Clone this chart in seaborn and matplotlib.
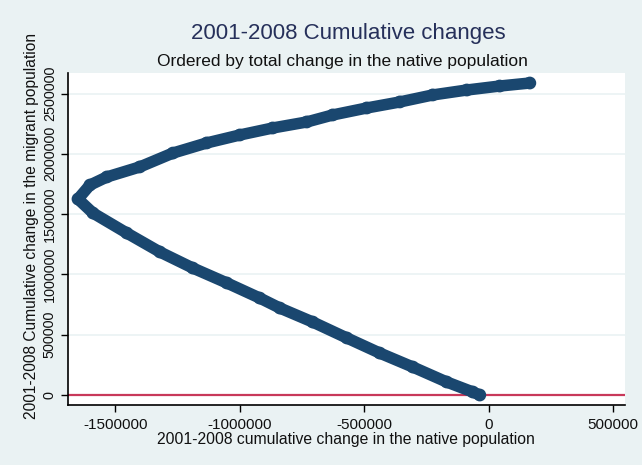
import numpy as np
import pandas as pd
import seaborn as sns
import matplotlib.pyplot as plt

# cumulative changes (native, migrant)
native = [-36000, -64000, -169000, -305000, -438000, -570000, -707000, -839000,
          -920000, -1052000, -1189000, -1321000, -1454000, -1590000, -1650000,
          -1602000, -1534000, -1402000, -1269000, -1133000, -1000000, -868000,
          -731000, -627000, -490000, -357000, -225000, -88000, 44000, 165000]
migrant = [0, 25000, 108000, 232000, 348000, 473000, 605000, 721000,
           804000, 929000, 1053000, 1186000, 1343000, 1509000, 1625000,
           1741000, 1808000, 1891000, 2006000, 2090000, 2156000, 2214000,
           2264000, 2322000, 2380000, 2430000, 2488000, 2529000, 2562000, 2587000]

xticks = [-1500000, -1000000, -500000, 0, 500000]
yticks = [0, 500000, 1000000, 1500000, 2000000, 2500000]

df = pd.DataFrame({'native': native, 'migrant': migrant})

plt.rcParams['font.family'] = ['Liberation Sans', 'DejaVu Sans']
bg = '#eaf2f3'
navy = '#1a476f'
txt = '#111111'

fig = plt.figure(figsize=(6.42, 4.65), dpi=100, facecolor=bg)
ax = fig.add_axes([0.106, 0.129, 0.867, 0.714])
ax.set_facecolor('white')

for t in yticks[1:]:
    ax.axhline(t, color=bg, lw=1.2, zorder=0)
ax.axhline(0, color='#c8385a', lw=1.6, zorder=1)

sns.lineplot(data=df, x='native', y='migrant', sort=False, estimator=None,
             color=navy, linewidth=8.3, solid_capstyle='round', ax=ax, zorder=3)
sns.scatterplot(data=df, x='native', y='migrant', color=navy, s=85,
                edgecolor='none', ax=ax, zorder=4)

ax.set_xlim(-1690000, 546000)
ax.set_ylim(-83000, 2670000)
ax.set_xticks(xticks)
ax.set_xticklabels([str(v) for v in xticks], fontsize=11, color=txt)
ax.set_yticks(yticks)
ax.set_yticklabels([str(v) for v in yticks], fontsize=10.4, color=txt,
                   rotation=90, va='center')
ax.tick_params(axis='x', direction='out', length=5, width=1, color='black', pad=4)
ax.tick_params(axis='y', direction='out', length=5, width=1, color='black', pad=3)

for s in ['top', 'right']:
    ax.spines[s].set_visible(False)
for s in ['left', 'bottom']:
    ax.spines[s].set_color('black')
    ax.spines[s].set_linewidth(1.2)

ax.set_xlabel('2001-2008 cumulative change in the native population',
              fontsize=11.3, color=txt)
ax.xaxis.set_label_coords(0.5, -0.082)
ax.set_ylabel('2001-2008 Cumulative change in the migrant population',
              fontsize=11.2, color=txt)
ax.yaxis.set_label_coords(-0.053, 0.54)

fig.text(0.542, 0.927, '2001-2008 Cumulative changes', ha='center', va='center',
         fontsize=16, color='#26305a')
fig.text(0.534, 0.867, 'Ordered by total change in the native population',
         ha='center', va='center', fontsize=12.5, color=txt)

fig.savefig('out.png', dpi=100, facecolor=bg)
